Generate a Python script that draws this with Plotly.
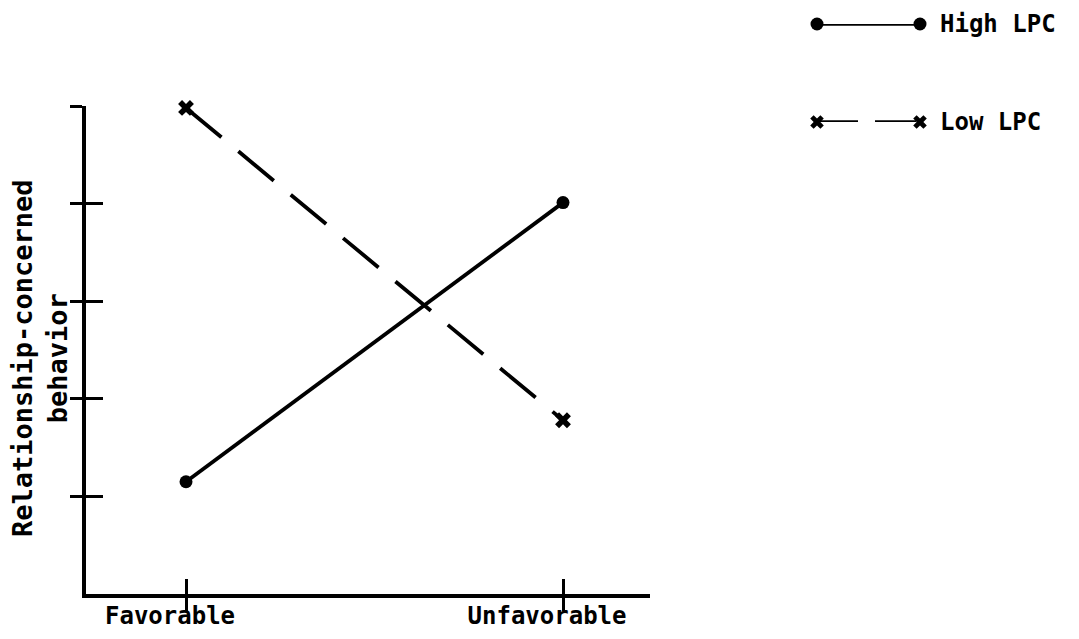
import plotly.graph_objects as go

# ---- data ----
categories = ["Favorable", "Unfavorable"]
high_lpc = [1.15, 4.01]
low_lpc = [4.98, 1.78]
y_ticks = [1, 2, 3, 4, 5]
series_names = ["High LPC", "Low LPC"]
y_title = "Relationship-concerned<br>behavior"

FONT = dict(family="DejaVu Sans Mono", size=24, color="black", weight="bold")
TITLE_FONT = dict(FONT, size=27)
W, H = 1079, 639
# pixel layout of the main axes
x0, x1 = 86, 650
yb, yt = 594, 106

fig = go.Figure()

fig.add_trace(go.Scatter(
    x=categories, y=high_lpc, name=series_names[0], mode="lines+markers",
    line=dict(color="black", width=3.8),
    marker=dict(symbol="circle", size=13, color="black"),
    xaxis="x", yaxis="y", cliponaxis=False, showlegend=False))

fig.add_trace(go.Scatter(
    x=categories, y=low_lpc, name=series_names[1], mode="lines+markers",
    line=dict(color="black", width=3.8, dash="46px,22px"),
    marker=dict(symbol="x", size=14, color="black"),
    xaxis="x2", yaxis="y2", cliponaxis=False, showlegend=False))

# legend samples on an auxiliary hidden axis pair
fig.add_trace(go.Scatter(
    x=[0, 1], y=[1, 1], mode="lines+markers",
    line=dict(color="black", width=3.5),
    marker=dict(symbol="circle", size=13, color="black"),
    xaxis="x3", yaxis="y3", cliponaxis=False, showlegend=False, hoverinfo="skip"))
fig.add_trace(go.Scatter(
    x=[0, 1], y=[0, 0], mode="lines+markers",
    line=dict(color="black", width=3.5, dash="41px,17px"),
    marker=dict(symbol="x", size=12, color="black"),
    xaxis="x3", yaxis="y3", cliponaxis=False, showlegend=False, hoverinfo="skip"))

for i, name in enumerate(series_names):
    fig.add_annotation(x=1, y=1 - i, xref="x3", yref="y3", text=name,
                       showarrow=False, xanchor="left", yanchor="middle",
                       xshift=18, font=FONT)

# y-axis title (two lines, rotated)
fig.add_annotation(x=40 / W, y=(H - 358) / H, xref="paper", yref="paper",
                   text=y_title, textangle=-90, showarrow=False,
                   xanchor="center", yanchor="middle", align="center",
                   font=TITLE_FONT)

xrange = [-(186 - x0) / 377, 1 + (x1 - 563) / 377]
xdom = [x0 / W, x1 / W]
ydom = [(H - yb) / H, (H - yt) / H]

common_x = dict(type="category", categoryarray=categories, range=xrange,
                domain=xdom, fixedrange=True, showgrid=False, zeroline=False,
                tickvals=categories, tickwidth=3, tickcolor="black")
common_y = dict(range=[0, 5], domain=ydom, tickvals=y_ticks, fixedrange=True,
                showgrid=False, zeroline=False, tickwidth=3, tickcolor="black")

fig.update_layout(
    width=W, height=H,
    margin=dict(l=0, r=0, t=0, b=0, autoexpand=False),
    paper_bgcolor="white", plot_bgcolor="white",
    showlegend=False,
    font=FONT,
    xaxis=dict(**common_x, anchor="y", showline=True, linewidth=3.5,
               linecolor="black", ticks="outside", ticklen=13,
               showticklabels=True, ticktext=categories,
               tickfont=FONT, ticklabelshift=-16, ticklabelstandoff=-16),
    yaxis=dict(**common_y, anchor="x", showline=True, linewidth=3.5,
               linecolor="black", ticks="outside", ticklen=12,
               showticklabels=False),
    xaxis2=dict(**common_x, anchor="y2", overlaying="x", side="bottom",
                showline=False, ticks="inside", ticklen=15, showticklabels=False),
    yaxis2=dict(**common_y, anchor="x2", overlaying="y", side="left",
                showline=False, ticks="inside", ticklen=17, showticklabels=False),
    xaxis3=dict(domain=[817 / W, 920 / W], range=[0, 1], visible=False,
                anchor="y3", fixedrange=True),
    yaxis3=dict(domain=[(H - 122) / H, (H - 24) / H], range=[0, 1],
                visible=False, anchor="x3", fixedrange=True),
)

fig.write_html("out.html",
               config={"displayModeBar": False},
               post_script="document.body.style.margin='0';"
                           "document.body.style.overflow='hidden';")
